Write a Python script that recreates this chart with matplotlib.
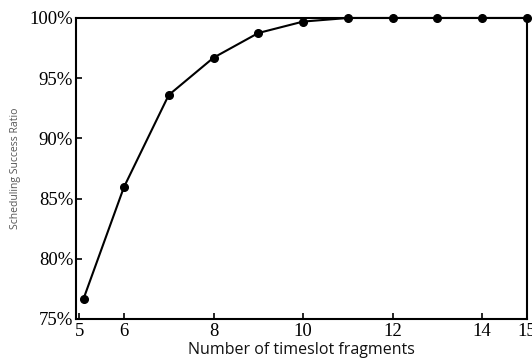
import matplotlib
matplotlib.use("Agg")
import matplotlib.pyplot as plt
from matplotlib.ticker import FuncFormatter

fragments = [5.1, 6, 7, 8, 9, 10, 11, 12, 13, 14, 15]
success = [76.7, 85.95, 93.6, 96.7, 98.75, 99.7, 100, 100, 100, 100, 100]
xticks = [5, 6, 8, 10, 12, 14, 15]
yticks = [75, 80, 85, 90, 95, 100]

fig = plt.figure(figsize=(5.32, 3.58), dpi=100)
ax = fig.add_axes([0.1429, 0.109, 0.8477, 0.8408])
ax.plot(fragments, success, color='black', lw=1.5, marker='o', markersize=5.5, clip_on=False, zorder=3)
ax.set_xlim(4.93, 15)
ax.set_ylim(75, 100)
ax.set_xticks(xticks)
ax.set_yticks(yticks)
ax.yaxis.set_major_formatter(FuncFormatter(lambda v, p: f"{v:.0f}%"))
ax.tick_params(direction='in', length=4, width=1.2, pad=2,
               labelsize=13.5)
ax.tick_params(axis='x', pad=3)
for lab in ax.get_xticklabels() + ax.get_yticklabels():
    lab.set_fontfamily('Liberation Serif')
for s in ax.spines.values():
    s.set_linewidth(1.5)
ax.set_xlabel('Number of timeslot fragments', fontsize=11.5, family='Open Sans', labelpad=1, color='#111111')
ax.set_ylabel('Scheduling Success Ratio', fontsize=7.5, family='Open Sans', color='#555555', labelpad=6)
fig.savefig('out.png', dpi=100)
